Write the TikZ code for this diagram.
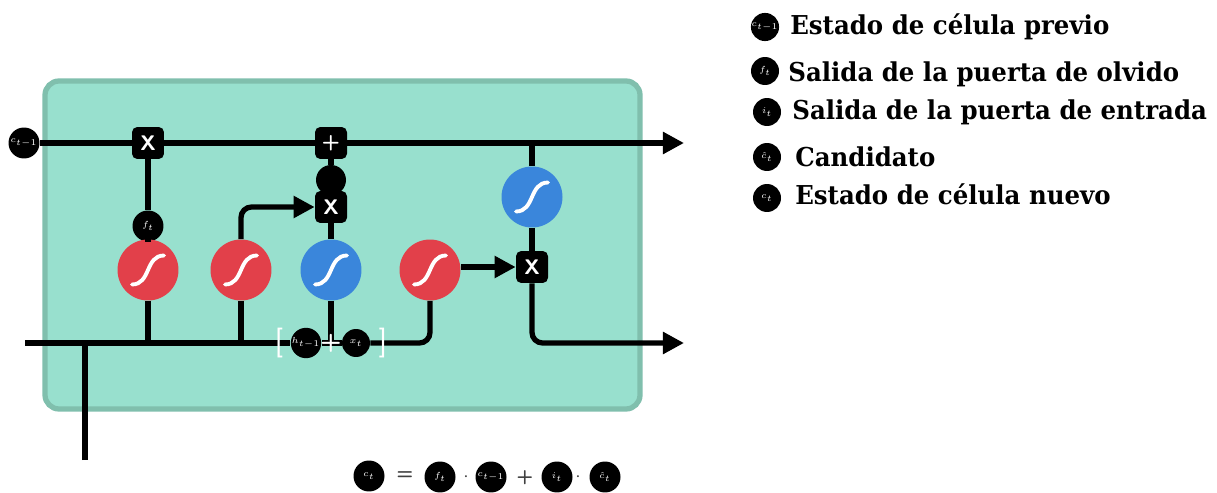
\documentclass[tikz,border=0pt]{standalone}
\usepackage{fontspec}
\newfontfamily\legfont{DejaVu Serif}[FakeStretch=0.94]
\usetikzlibrary{arrows.meta}
\definecolor{cellgreen}{HTML}{98E0CE}
\definecolor{cellborder}{HTML}{80BFAD}
\definecolor{sigred}{HTML}{E2404A}
\definecolor{sigblue}{HTML}{3A86DB}
\tikzset{
  conn/.style={line width=3pt, draw=black},
  arr/.style={conn, -{Triangle[length=12pt,width=12pt]}},
  sigcurve/.style={path picture={
    \draw[white, line width=2.2pt, line cap=round, shift={(path picture bounding box.center)}]
      (-0.32cm,-0.29cm) .. controls (0.06cm,-0.29cm) and (-0.06cm,0.29cm) .. (0.32cm,0.29cm);}},
  sigr/.style={circle, fill=sigred, minimum size=1.22cm, inner sep=0pt, sigcurve},
  sigb/.style={circle, fill=sigblue, minimum size=1.22cm, inner sep=0pt, sigcurve},
  opbox/.style={rectangle, rounded corners=3pt, fill=black, minimum size=0.64cm, inner sep=0pt,
    text=white, font=\sffamily\bfseries\fontsize{12}{12}\selectfont},
  blob/.style={circle, fill=black, minimum size=0.62cm, inner sep=0pt,
    text=white, font=\fontsize{4.5}{4.5}\selectfont},
  legblob/.style={circle, fill=black, minimum size=0.56cm, inner sep=0pt,
    text=white, font=\fontsize{4}{4}\selectfont},
  legtext/.style={anchor=base west, inner sep=0pt, font=\legfont\bfseries\fontsize{14.8}{14.8}\selectfont},
  brk/.style={text=white, inner sep=0pt, font=\sffamily\fontsize{17}{17}\selectfont},
  eqsym/.style={text=black!75, inner sep=0pt, font=\sffamily\bfseries\fontsize{11}{11}\selectfont}
}
\begin{document}
\begin{tikzpicture}[x=0.02cm, y=-0.02cm]
\useasboundingbox (0,0) rectangle (1217,493);
% cell body
\draw[fill=cellgreen, draw=cellborder, line width=3pt, rounded corners=8pt] (45,81) rectangle (640,409);

% nodes
\node[blob] (ct1) at (24,143) {$c_{t-1}$};
\node[opbox] (mulf) at (148,143) {X};
\node[opbox] (add) at (331,143) {+};
\coordinate (topend) at (684,143);
\node[blob] (ft) at (148,226) {$f_t$};
\node[sigr] (sig1) at (148,270) {};
\node[sigr] (sig2) at (241,270) {};
\node[sigb] (sig3) at (331,270) {};
\node[sigr] (sig4) at (430,270) {};
\node[sigb] (tanh) at (532,197) {};
\node[opbox] (mulo) at (532,267) {X};
\node[opbox] (muli) at (331,207) {X};
\node[blob, minimum size=0.6cm] (dot) at (331,180) {};
\node[blob, minimum size=0.56cm] (hprev) at (306,343) {$h_{t-1}$};
\node[blob, minimum size=0.56cm] (xt) at (356,343) {$x_t$};
\coordinate (plusc) at (331,343);
\coordinate (leftend) at (25,343);
\coordinate (junc) at (85,343);
\coordinate (inbot) at (85,460);
\coordinate (hout) at (684,343);

% connectors
\draw[conn] (ct1) -- (mulf);
\draw[conn] (mulf) -- (add);
\draw[arr] (add) -- (topend);
\draw[conn] (mulf) -- (ft);
\draw[conn] (ft) -- (sig1);
\draw[conn] (add) -- (dot);
\draw[conn] (dot) -- (muli);
\draw[conn] (muli) -- (sig3);
\draw[arr, rounded corners=6pt] (sig2.north) |- (muli.west);
\draw[conn] (leftend) -- (hprev);
\draw[conn] (hprev) -- (xt);
\draw[conn] (inbot) -- (junc);
\draw[conn] (sig1) -- (sig1 |- junc);
\draw[conn] (sig2) -- (sig2 |- junc);
\draw[conn] (sig3) -- (plusc);
\draw[conn, rounded corners=6pt] (xt) -| (sig4.south);
\draw[arr] (sig4.east |- mulo) -- (mulo);
\draw[conn] (tanh |- add) -- (tanh);
\draw[conn] (tanh) -- (mulo);
\draw[arr, rounded corners=6pt] (mulo) |- (hout);

% brackets and plus
\node[brk] (lbr) at (279,343) {[};
\node[brk] (rbr) at (383,343) {]};
\node[text=white, inner sep=0pt, font=\sffamily\bfseries\fontsize{14}{14}\selectfont] (pl) at (331,343) {+};

% legend
\node[legblob] (l1) at (765,27) {$c_{t-1}$};
\node[legtext] (t1) at (790,35) {Estado de célula previo};
\node[legblob] (l2) at (765,71) {$f_t$};
\node[legtext] (t2) at (788,82) {Salida de la puerta de olvido};
\node[legblob] (l3) at (767,112) {$i_t$};
\node[legtext] (t3) at (792,120) {Salida de la puerta de entrada};
\node[legblob] (l4) at (767,157) {$\hat{c}_t$};
\node[legtext] (t4) at (795,167) {Candidato};
\node[legblob] (l5) at (767,198) {$c_t$};
\node[legtext] (t5) at (795,205) {Estado de célula nuevo};

% equation
\node[blob] (e1) at (369,476) {$c_t$};
\node[eqsym] (eq) at (405,476) {=};
\node[blob] (e2) at (440,477) {$f_t$};
\node[eqsym] (d1) at (466,477) {$\cdot$};
\node[blob] (e3) at (491,477) {$c_{t-1}$};
\node[eqsym] (p1) at (525,478) {+};
\node[blob] (e4) at (557,477) {$i_t$};
\node[eqsym] (d2) at (578,477) {$\cdot$};
\node[blob] (e5) at (605,477) {$\hat{c}_t$};
\end{tikzpicture}
\end{document}
